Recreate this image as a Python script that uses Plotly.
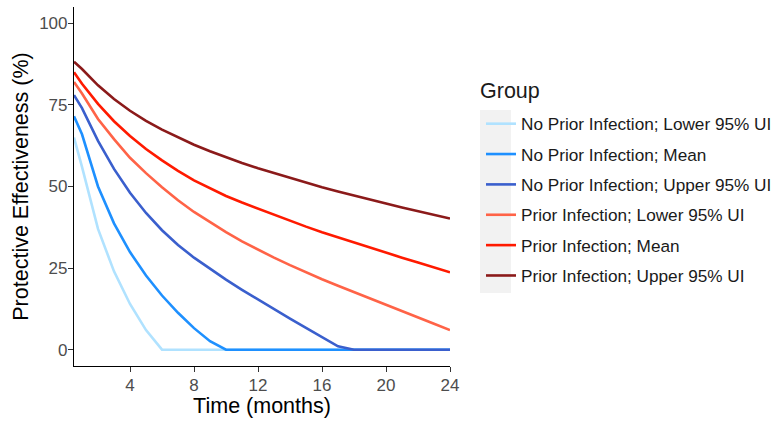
import plotly.graph_objects as go

months = [0.5] + list(range(1, 25))

group_names = [
    "No Prior Infection; Lower 95% UI",
    "No Prior Infection; Mean",
    "No Prior Infection; Upper 95% UI",
    "Prior Infection; Lower 95% UI",
    "Prior Infection; Mean",
    "Prior Infection; Upper 95% UI",
]
legend_title = "Group"

no_prior_lower = [65, 56, 37, 24, 14, 6, 0, 0, 0, 0, 0, 0, 0, 0, 0, 0, 0, 0, 0, 0, 0, 0, 0, 0, 0]
no_prior_mean = [71.5, 66, 50, 38.7, 29.9, 22.7, 16.6, 11.3, 6.6, 2.6, 0, 0, 0, 0, 0, 0, 0, 0, 0, 0, 0, 0, 0, 0, 0]
no_prior_upper = [78, 74, 64, 55.4, 48.1, 41.9, 36.6, 32.1, 28.2, 24.7, 21.45, 18.35, 15.35, 12.4, 9.5, 6.65, 3.85, 1.05, 0, 0, 0, 0, 0, 0, 0]
prior_lower = [82, 78.5, 70.7, 64.5, 58.8, 54.1, 49.8, 45.8, 42.2, 39.0, 36.0, 33.2, 30.6, 28.2, 25.9, 23.7, 21.6, 19.6, 17.7, 15.8, 13.9, 11.95, 9.95, 7.95, 6.0]
prior_mean = [85, 81.5, 75.3, 70.0, 65.5, 61.5, 58.0, 54.8, 51.9, 49.4, 47.1, 45.1, 43.2, 41.3, 39.5, 37.7, 36.0, 34.4, 32.8, 31.2, 29.7, 28.2, 26.7, 25.2, 23.7]
prior_upper = [88.2, 86, 81.0, 76.8, 73.2, 70.1, 67.4, 65.0, 62.8, 60.8, 58.95, 57.2, 55.6, 54.1, 52.6, 51.2, 49.8, 48.5, 47.2, 46.0, 44.8, 43.6, 42.4, 41.3, 40.2]

x_ticks = [4, 8, 12, 16, 20, 24]
y_ticks = [0, 25, 50, 75, 100]

series = [no_prior_lower, no_prior_mean, no_prior_upper, prior_lower, prior_mean, prior_upper]
colors = ["#B0E2FF", "#1E90FF", "#3A5FCD", "#FF6347", "#FF1A00", "#8B1A1A"]

FONT = "Liberation Sans, Arial, Helvetica, sans-serif"

fig = go.Figure()
for name, vals, col in zip(group_names, series, colors):
    fig.add_trace(go.Scatter(
        x=months, y=vals, mode="lines", name=name, legendgroup=name,
        line=dict(color=col, width=2.6),
    ))

fig.update_layout(
    template="none",
    width=772, height=422,
    margin=dict(l=74, r=322, t=7, b=56),
    paper_bgcolor="white", plot_bgcolor="white",
    font=dict(family=FONT, color="#1a1a1a"),
    showlegend=True,
    legend=dict(
        xref="container", yref="container",
        x=481 / 772, xanchor="left", y=1 - 106 / 422, yanchor="top",
        font=dict(size=17.2, color="#1a1a1a", family=FONT),
        traceorder="grouped", tracegroupgap=5,
        bgcolor="rgba(0,0,0,0)",
    ),
    xaxis=dict(
        range=[0.5, 24], tickmode="array", tickvals=x_ticks,
        showgrid=False, zeroline=False, showline=True, linecolor="black", linewidth=1.2,
        ticks="outside", ticklen=5, tickwidth=1.1, tickcolor="#333333",
        tickfont=dict(size=17, color="#4d4d4d", family=FONT),
        ticklabelstandoff=-2,
        title=dict(text="Time (months)", font=dict(size=21.5, color="black", family=FONT), standoff=0),
        automargin=False,
    ),
    yaxis=dict(
        range=[-5, 105], tickmode="array", tickvals=y_ticks,
        showgrid=False, zeroline=False, showline=True, linecolor="black", linewidth=1.2,
        ticks="outside", ticklen=5, tickwidth=1.1, tickcolor="#333333",
        tickfont=dict(size=17, color="#4d4d4d", family=FONT),
        ticklabelstandoff=-3,
        title=dict(text="Protective Effectiveness (%)", font=dict(size=21.5, color="black", family=FONT), standoff=4),
        automargin=False,
    ),
    shapes=[dict(
        type="rect", xref="paper", yref="paper",
        x0=1.0798, x1=1.1622, y0=0.2033, y1=0.713,
        fillcolor="#f2f2f2", line=dict(width=0), layer="below",
    )],
    annotations=[dict(
        text=legend_title, xref="paper", yref="paper",
        x=1.0745, xanchor="left", y=(366 - 91) / 359, yanchor="middle",
        showarrow=False, font=dict(size=21.5, color="#1a1a1a", family=FONT),
    )],
)

fig.write_html("out.html")
